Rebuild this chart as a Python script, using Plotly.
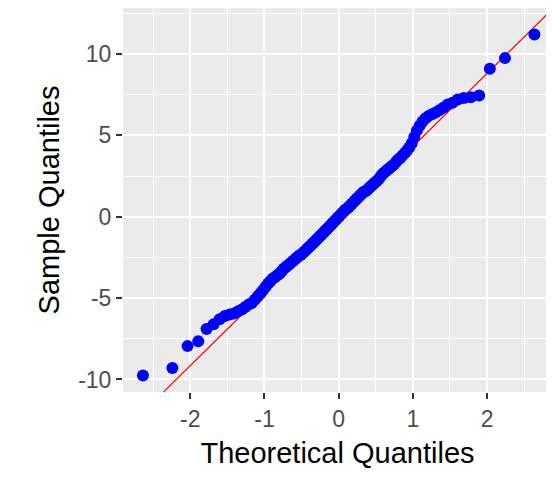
from statistics import NormalDist
import plotly.graph_objects as go

sample = [
    -9.75, -9.3, -7.95, -7.65, -6.9, -6.6, -6.3, -6.1, -6.0, -5.95,
    -5.8, -5.7, -5.55, -5.4, -5.3, -5.1, -4.9, -4.7, -4.5, -4.3,
    -4.1, -3.95, -3.8, -3.7, -3.6, -3.5, -3.35, -3.2, -3.1, -3.0,
    -2.9, -2.8, -2.7, -2.6, -2.5, -2.4, -2.35, -2.25, -2.15, -2.05,
    -1.95, -1.85, -1.75, -1.65, -1.55, -1.45, -1.35, -1.25, -1.15, -1.05,
    -0.95, -0.85, -0.75, -0.65, -0.55, -0.45, -0.35, -0.25, -0.15, -0.05,
    0.05, 0.15, 0.25, 0.35, 0.45, 0.5, 0.6, 0.7, 0.8, 0.9,
    1.0, 1.1, 1.2, 1.3, 1.4, 1.5, 1.55, 1.6, 1.7, 1.8,
    1.9, 2.0, 2.1, 2.2, 2.3, 2.45, 2.6, 2.7, 2.8, 2.9,
    3.0, 3.1, 3.2, 3.35, 3.5, 3.6, 3.75, 3.9, 4.05, 4.25,
    4.5, 4.9, 5.3, 5.6, 5.85, 6.05, 6.2, 6.3, 6.4, 6.55,
    6.7, 6.9, 7.0, 7.2, 7.3, 7.35, 7.45, 9.1, 9.75, 11.2,
]
n = len(sample)
# theoretical normal quantiles, ppoints style
theo = [NormalDist().inv_cdf((i + 0.5) / n) for i in range(n)]

x_ticks = [-2, -1, 0, 1, 2]
y_ticks = [-10, -5, 0, 5, 10]

line_x = [-2.36, 2.80]
line_slope = 4.49
line_int = -0.17

fig = go.Figure()
fig.add_trace(go.Scatter(
    x=line_x, y=[line_int + line_slope * v for v in line_x],
    mode="lines", line=dict(color="red", width=1.2), hoverinfo="skip"
))
fig.add_trace(go.Scatter(
    x=theo, y=sample, mode="markers",
    marker=dict(color="#0000FF", size=12)
))

ax = dict(
    showgrid=True, gridcolor="white", gridwidth=2, zeroline=False,
    ticks="outside", ticklen=6, tickwidth=2, tickcolor="#333333",
    tickfont=dict(size=23, color="#4D4D4D"), showline=False, automargin=False,
)
fig.update_xaxes(
    **ax, range=[-2.907, 2.875], tickvals=x_ticks, ticktext=[str(v) for v in x_ticks],
    minor=dict(dtick=0.5, tick0=0, showgrid=True, gridcolor="white", gridwidth=1),
    title=dict(text="Theoretical Quantiles", font=dict(size=29, color="black"), standoff=12),
)
fig.update_yaxes(
    **ax, range=[-10.77, 12.83], tickvals=y_ticks, ticktext=[str(v) for v in y_ticks],
    minor=dict(dtick=2.5, tick0=0, showgrid=True, gridcolor="white", gridwidth=1),
    title=dict(text="Sample Quantiles", font=dict(size=29, color="black"), standoff=10),
)
fig.update_layout(
    width=554, height=490, showlegend=False,
    plot_bgcolor="#EBEBEB", paper_bgcolor="white",
    margin=dict(l=115, r=10, t=0, b=106),
    font=dict(family="Liberation Sans, Arial"),
)
fig.write_html("out.html")
